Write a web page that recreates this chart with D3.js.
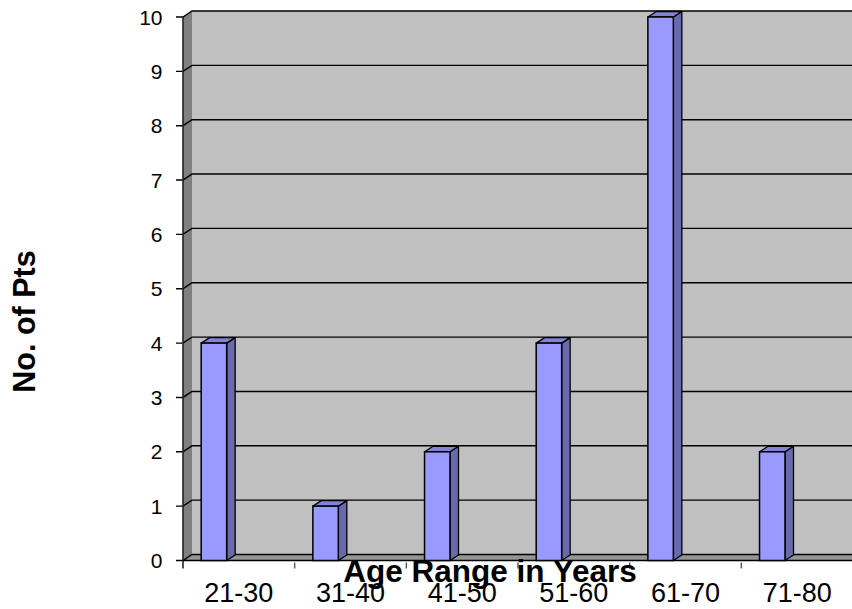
<!DOCTYPE html>
<html>
<head>
<meta charset="utf-8">
<script src="https://cdn.jsdelivr.net/npm/d3@7/dist/d3.min.js"></script>
<style>
  html, body { margin: 0; padding: 0; background: #fff; }
  svg { display: block; font-family: Arial, "Liberation Sans", sans-serif; }
</style>
</head>
<body>
<svg id="chart" width="852" height="609"></svg>
<script>
// Patients per age range
const categories = ["21-30", "31-40", "41-50", "51-60", "61-70", "71-80"];
const counts = [4, 1, 2, 4, 10, 2];
const yTicks = [0, 1, 2, 3, 4, 5, 6, 7, 8, 9, 10];
const xTitle = "Age Range in Years";
const yTitle = "No. of Pts";

const svg = d3.select("#chart");
const W = 852;

// front plane of the 3-D plot
const x = d3.scaleBand().domain(categories).range([183, 853]).paddingInner(0).paddingOuter(0);
const y = d3.scaleLinear().domain([0, 10]).range([560.5, 17]);

// depth offsets (walls and bars)
const wdx = 9, wdy = -6;
const bdx = 8.5, bdy = -5.5;

const x0 = x.range()[0];
const yBase = y(0), yTop = y(10);

// back wall
svg.append("rect")
  .attr("x", x0 + wdx).attr("y", yTop + wdy)
  .attr("width", W + 20 - (x0 + wdx)).attr("height", yBase - yTop)
  .attr("fill", "#c0c0c0");

// side wall
svg.append("polygon")
  .attr("points", [[x0, yTop], [x0 + wdx, yTop + wdy], [x0 + wdx, yBase + wdy], [x0, yBase]].join(" "))
  .attr("fill", "#808080");

// floor
svg.append("polygon")
  .attr("points", [[x0, yBase], [x0 + wdx, yBase + wdy], [W + 20, yBase + wdy], [W + 20, yBase]].join(" "))
  .attr("fill", "#959595");

// gridlines, continued across the side wall, with ticks on the front axis
svg.append("g").selectAll("polyline")
  .data(yTicks)
  .join("polyline")
  .attr("points", d => [[x0 - 7, y(d)], [x0, y(d)], [x0 + wdx, y(d) + wdy], [W + 20, y(d) + wdy]].join(" "))
  .attr("fill", "none")
  .attr("stroke", "#000")
  .attr("stroke-width", 1.4);

// front axis lines
svg.append("line")
  .attr("x1", x0).attr("x2", x0).attr("y1", yTop).attr("y2", yBase + 8)
  .attr("stroke", "#222").attr("stroke-width", 1.6);
svg.append("line")
  .attr("x1", x0).attr("x2", W + 20).attr("y1", yBase).attr("y2", yBase)
  .attr("stroke", "#000").attr("stroke-width", 1.6);

// category ticks
svg.append("g").selectAll("line")
  .data(categories.slice(1))
  .join("line")
  .attr("x1", d => x(d)).attr("x2", d => x(d))
  .attr("y1", yBase + 2).attr("y2", yBase + 8)
  .attr("stroke", "#555").attr("stroke-width", 1.4);

// y tick labels
svg.append("g").selectAll("text")
  .data(yTicks)
  .join("text")
  .attr("x", 162.5).attr("y", d => y(d))
  .attr("dy", "0.36em")
  .attr("text-anchor", "end")
  .attr("font-size", 21)
  .text(d => d);

// 3-D columns
const bw = x.bandwidth();
const barOff = bw * 0.163, barW = bw * 0.228;
const bars = svg.append("g").selectAll("g")
  .data(categories.map((c, i) => ({ c, v: counts[i] })))
  .join("g");

bars.append("polygon") // side face
  .attr("points", d => {
    const xr = x(d.c) + barOff + barW;
    return [[xr, y(d.v)], [xr + bdx, y(d.v) + bdy], [xr + bdx, yBase + bdy], [xr, yBase]].join(" ");
  })
  .attr("fill", "#6969ad").attr("stroke", "#000").attr("stroke-width", 1.3).attr("stroke-linejoin", "round");

bars.append("polygon") // top face
  .attr("points", d => {
    const xl = x(d.c) + barOff, xr = xl + barW, yt = y(d.v);
    return [[xl, yt], [xl + bdx, yt + bdy], [xr + bdx, yt + bdy], [xr, yt]].join(" ");
  })
  .attr("fill", "#8282d6").attr("stroke", "#000").attr("stroke-width", 1.3).attr("stroke-linejoin", "round");

bars.append("rect") // front face
  .attr("x", d => x(d.c) + barOff)
  .attr("y", d => y(d.v))
  .attr("width", barW)
  .attr("height", d => yBase - y(d.v))
  .attr("fill", "#9999ff").attr("stroke", "#000").attr("stroke-width", 1.5);

// category labels
svg.append("g").selectAll("text")
  .data(categories)
  .join("text")
  .attr("x", d => x(d) + bw / 2)
  .attr("y", 601.5)
  .attr("text-anchor", "middle")
  .attr("font-size", 27)
  .text(d => d);

// axis titles
svg.append("text")
  .attr("x", 490).attr("y", 581.5)
  .attr("text-anchor", "middle")
  .attr("font-size", 31.5).attr("font-weight", "bold")
  .text(xTitle);

svg.append("text")
  .attr("transform", "translate(35,321.5) rotate(-90)")
  .attr("text-anchor", "middle")
  .attr("font-size", 30.5).attr("font-weight", "bold")
  .text(yTitle);
</script>
</body>
</html>
